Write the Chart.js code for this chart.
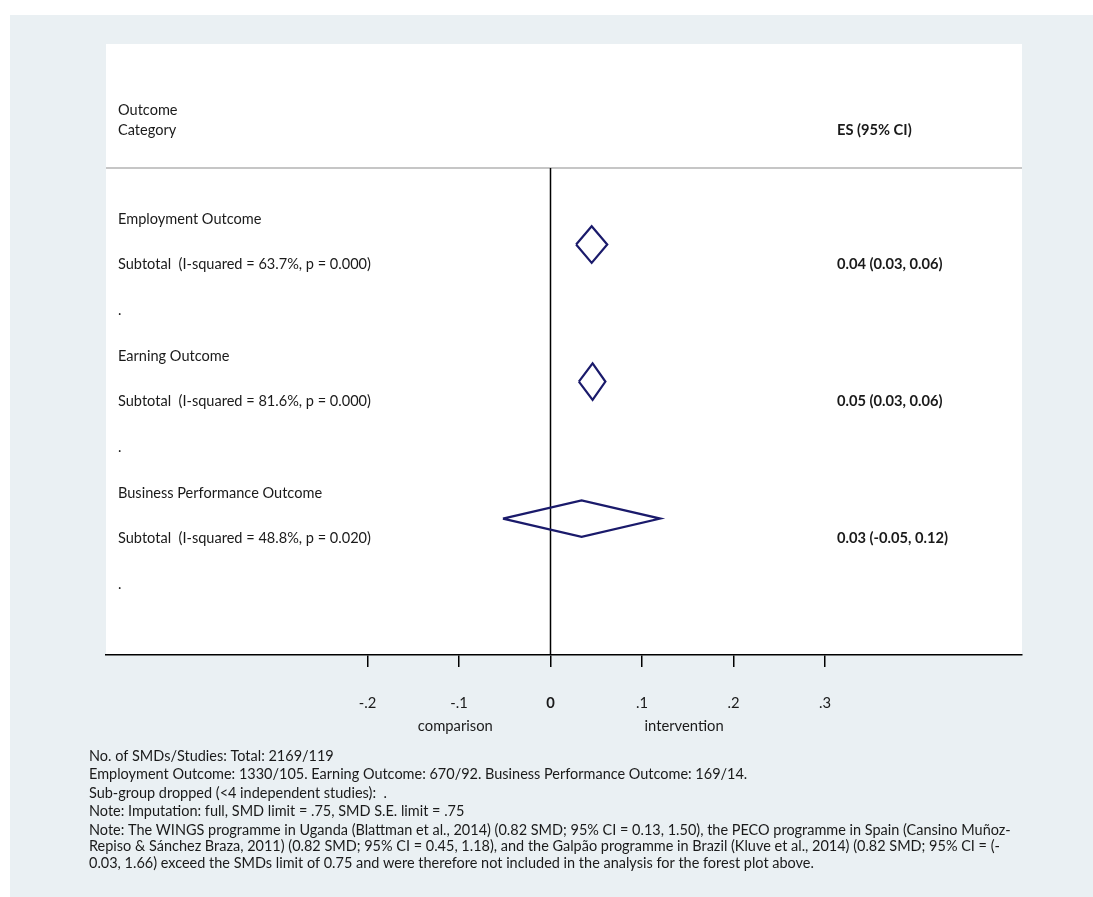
<!DOCTYPE html>
<html>
<head>
<meta charset="utf-8">
<script src="https://cdn.jsdelivr.net/npm/chart.js@4.4.1/dist/chart.umd.min.js"></script>
<style>
html,body{margin:0;padding:0;background:#fff;}
canvas{display:block;}
</style>
</head>
<body>
<canvas id="c" width="1093" height="897" style="width:1093px;height:897px"></canvas>
<script>
// ---- data ----
const categories = ['Employment Outcome', 'Earning Outcome', 'Business Performance Outcome'];
const subtotalLabels = [
  'Subtotal  (I-squared = 63.7%, p = 0.000)',
  'Subtotal  (I-squared = 81.6%, p = 0.000)',
  'Subtotal  (I-squared = 48.8%, p = 0.020)'
];
const esValues = [0.045, 0.046, 0.034];
const ciLower  = [0.028, 0.031, -0.052];
const ciUpper  = [0.062, 0.060, 0.120];
const esLabels = ['0.04 (0.03, 0.06)', '0.05 (0.03, 0.06)', '0.03 (-0.05, 0.12)'];
const xTicks = [-0.2, -0.1, 0, 0.1, 0.2, 0.3];
const headerLeft = ['Outcome', 'Category'];
const headerRight = 'ES (95% CI)';
const sideLabels = ['comparison', 'intervention'];
const footnotes = [
  'No. of SMDs/Studies: Total: 2169/119',
  'Employment Outcome: 1330/105. Earning Outcome: 670/92. Business Performance Outcome: 169/14.',
  'Sub-group dropped (<4 independent studies):  .',
  'Note: Imputation: full, SMD limit = .75, SMD S.E. limit = .75',
  'Note: The WINGS programme in Uganda (Blattman et al., 2014) (0.82 SMD; 95% CI = 0.13, 1.50), the PECO programme in Spain (Cansino Muñoz-',
  'Repiso & Sánchez Braza, 2011) (0.82 SMD; 95% CI = 0.45, 1.18), and the Galpão programme in Brazil (Kluve et al., 2014) (0.82 SMD; 95% CI = (-',
  '0.03, 1.66) exceed the SMDs limit of 0.75 and were therefore not included in the analysis for the forest plot above.'
];

// ---- layout / style ----
const FAMILY = 'Lato, "Open Sans", sans-serif';
const NAVY = '#1a1a6b';
const TEXT = '#1a1a1a';
const BG = '#eaf0f3';
const X_MIN = -0.4858, X_MAX = 0.5153;
const Y_MIN = -3.832, Y_MAX = 9.547;     // row units (one row per text line)
const DIAMOND_OFFSET = 0.56, DIAMOND_HALF = 0.4;
const HEADER_LINE_ROW = -1.117;

// font size fitting helper (matches text widths seen in the reference)
const mctx = document.createElement('canvas').getContext('2d');
function fitSize(text, weight, target) {
  mctx.font = weight + ' 20px ' + FAMILY;
  return 20 * target / mctx.measureText(text).width;
}
const labelSize = fitSize(subtotalLabels[0], 'normal', 253);
const esSize = fitSize(esLabels[0], 'bold', 105.7);
const axisSize = fitSize(sideLabels[0], 'normal', 75);
const noteSize = fitSize(footnotes[4], 'normal', 922);

// ---- datasets from data ----
const datasets = categories.map((c, i) => {
  const yc = 3 * i + DIAMOND_OFFSET;
  return {
    label: c,
    data: [
      {x: ciLower[i], y: yc},
      {x: esValues[i], y: yc - DIAMOND_HALF},
      {x: ciUpper[i], y: yc},
      {x: esValues[i], y: yc + DIAMOND_HALF},
      {x: ciLower[i], y: yc}
    ],
    showLine: true, borderColor: NAVY, borderWidth: 2.2, pointRadius: 0,
    tension: 0, fill: false, borderJoinStyle: 'miter'
  };
});
datasets.push({
  label: 'null',
  data: [{x: 0, y: HEADER_LINE_ROW}, {x: 0, y: Y_MAX}],
  showLine: true, borderColor: '#000', borderWidth: 1.5, pointRadius: 0, fill: false
});

const fmtTick = v => {
  if (Math.abs(v) < 1e-9) return '0';
  const s = Math.abs(v).toFixed(1).replace(/^0/, '');
  return (v < 0 ? '-' : '') + s;
};

const decor = {
  id: 'decor',
  beforeDraw(chart) {
    const ctx = chart.ctx, a = chart.chartArea;
    ctx.save();
    ctx.fillStyle = '#fff';
    ctx.fillRect(0, 0, chart.width, chart.height);
    ctx.fillStyle = BG;
    ctx.fillRect(10, 15, chart.width - 10, chart.height - 15);
    ctx.fillStyle = '#fff';
    ctx.fillRect(a.left, a.top, a.right - a.left, a.bottom - a.top);
    ctx.restore();
  },
  beforeDatasetsDraw(chart) {
    const ctx = chart.ctx, a = chart.chartArea, y = chart.scales.y;
    ctx.save();
    ctx.strokeStyle = '#c6c6c6';
    ctx.lineWidth = 2;
    const py = Math.round(y.getPixelForValue(HEADER_LINE_ROW));
    ctx.beginPath(); ctx.moveTo(a.left, py); ctx.lineTo(a.right, py); ctx.stroke();
    ctx.restore();
  },
  afterDraw(chart) {
    const ctx = chart.ctx, x = chart.scales.x, y = chart.scales.y;
    const leftX = 118, esX = 837;
    ctx.save();
    ctx.fillStyle = TEXT;
    ctx.textBaseline = 'middle';
    ctx.textAlign = 'left';
    ctx.font = 'normal ' + labelSize + 'px ' + FAMILY;
    ctx.fillText(headerLeft[0], leftX, y.getPixelForValue(-2.387));
    ctx.fillText(headerLeft[1], leftX, y.getPixelForValue(-1.949));
    categories.forEach((c, i) => {
      ctx.font = 'normal ' + labelSize + 'px ' + FAMILY;
      ctx.fillText(c, leftX, y.getPixelForValue(3 * i));
      ctx.fillText(subtotalLabels[i], leftX, y.getPixelForValue(3 * i + 1));
      ctx.fillText('.', leftX, y.getPixelForValue(3 * i + 2));
      ctx.font = 'bold ' + esSize + 'px ' + FAMILY;
      ctx.fillText(esLabels[i], esX, y.getPixelForValue(3 * i + 1));
    });
    ctx.font = 'bold ' + esSize + 'px ' + FAMILY;
    ctx.fillText(headerRight, esX, y.getPixelForValue(-1.949));
    // comparison / intervention
    ctx.textAlign = 'center';
    ctx.font = 'normal ' + axisSize + 'px ' + FAMILY;
    ctx.fillText(sideLabels[0], x.getPixelForValue(-0.104), 726);
    ctx.fillText(sideLabels[1], x.getPixelForValue(0.146), 726);
    // footnotes
    ctx.textAlign = 'left';
    ctx.font = 'normal ' + noteSize + 'px ' + FAMILY;
    const fy = [756, 774.5, 793, 811.5, 830, 846.5, 863];
    footnotes.forEach((t, i) => ctx.fillText(t, 89, fy[i]));
    ctx.restore();
  }
};

new Chart(document.getElementById('c'), {
  type: 'scatter',
  data: { datasets },
  options: {
    responsive: false,
    devicePixelRatio: 1,
    animation: false,
    layout: { padding: { left: 106, right: 71, top: 44, bottom: 0 } },
    plugins: { legend: { display: false }, tooltip: { enabled: false } },
    scales: {
      x: {
        type: 'linear', position: 'bottom', min: X_MIN, max: X_MAX,
        afterBuildTicks: s => { s.ticks = xTicks.map(v => ({ value: v })); },
        afterFit: s => { s.height = 242; },
        grid: { drawOnChartArea: false, drawTicks: true, tickLength: 12, color: '#000', lineWidth: 1.5 },
        border: { display: true, color: '#000', width: 1.5 },
        ticks: {
          autoSkip: false, maxRotation: 0, padding: 27, color: TEXT,
          callback: v => fmtTick(v),
          font: c => ({ family: FAMILY, size: axisSize, weight: (c.tick && Math.abs(c.tick.value) < 1e-9) ? 'bold' : 'normal' })
        }
      },
      y: { type: 'linear', display: false, reverse: true, min: Y_MIN, max: Y_MAX }
    }
  },
  plugins: [decor]
});
</script>
</body>
</html>
